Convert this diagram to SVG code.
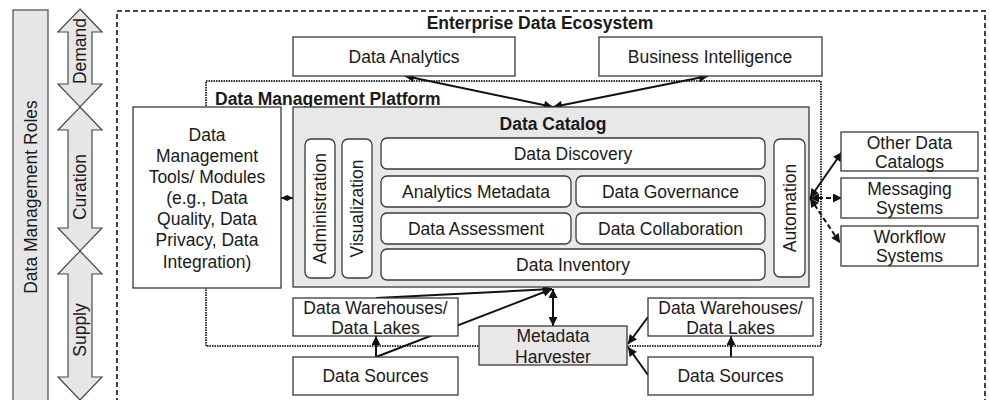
<svg xmlns="http://www.w3.org/2000/svg" width="989" height="400" viewBox="0 0 989 400">
  <style>
    text { font-family: "Liberation Sans", Arial, sans-serif; font-size: 17.5px; fill: #1a1a1a; text-anchor: middle; }
    .bold { font-weight: bold; }
    .box { fill: #ffffff; stroke: #3a3a3a; stroke-width: 1.3; }
    .gbox { fill: #e8e8e8; stroke: #3a3a3a; stroke-width: 1.3; }
    .rbox { fill: #ffffff; stroke: #3a3a3a; stroke-width: 1.3; }
    .role { fill: #e6e6e6; stroke: #4a4a4a; stroke-width: 1.2; }
    .eco { fill: none; stroke: #111; stroke-width: 1.6; stroke-dasharray: 5 3; }
    .dmp { fill: none; stroke: #333; stroke-width: 2; stroke-dasharray: 1.5 1; }
    .link { fill: none; stroke: #111; stroke-width: 2; }
    .dash { stroke-dasharray: 5 3; }
  </style>
  <defs>
    <marker id="ah" viewBox="0 0 10 10" refX="10" refY="5" markerWidth="10" markerHeight="9" markerUnits="userSpaceOnUse" orient="auto-start-reverse">
      <path d="M0,0 L10,5 L0,10 z" fill="#111"/>
    </marker>
    <marker id="ahs" viewBox="0 0 10 10" refX="10" refY="5" markerWidth="6" markerHeight="8" markerUnits="userSpaceOnUse" orient="auto-start-reverse">
      <path d="M0,0 L10,5 L0,10 z" fill="#111"/>
    </marker>
  </defs>

  <!-- roles column -->
  <g id="roles">
    <rect class="role" x="13" y="10" width="35" height="400"/>
    <text transform="translate(36.5,197) rotate(-90)">Data Management Roles</text>
  </g>
  <g id="demand">
    <path class="role" d="M80,9 L102,32 L92,32 L92,84 L102,84 L80,107 L58,84 L68,84 L68,32 L58,32 Z"/>
    <text transform="translate(86,51) rotate(-90)">Demand</text>
  </g>
  <g id="curation">
    <path class="role" d="M80,107 L102,130 L92,130 L92,228 L102,228 L80,251 L58,228 L68,228 L68,130 L58,130 Z"/>
    <text transform="translate(86,187) rotate(-90)">Curation</text>
  </g>
  <g id="supply">
    <path class="role" d="M80,251 L102,274 L92,274 L92,377 L102,377 L80,400 L58,377 L68,377 L68,274 L58,274 Z"/>
    <text transform="translate(86,330) rotate(-90)">Supply</text>
  </g>

  <!-- containers -->
  <g id="ecosystem">
    <rect class="eco" x="117" y="11" width="868" height="420"/>
    <text class="bold" x="540" y="29">Enterprise Data Ecosystem</text>
  </g>
  <g id="platform">
    <rect class="dmp" x="206" y="81" width="615" height="265"/>
    <text class="bold" x="215" y="105" style="text-anchor:start">Data Management Platform</text>
  </g>

  <!-- connectors -->
  <g id="connectors">
    <line class="link" x1="553" y1="107" x2="405" y2="76" marker-start="url(#ah)" marker-end="url(#ah)"/>
    <line class="link" x1="553" y1="107" x2="708" y2="76" marker-start="url(#ah)" marker-end="url(#ah)"/>
    <line class="link" x1="281" y1="198" x2="293" y2="198" marker-start="url(#ahs)" marker-end="url(#ahs)"/>
    <line class="link" x1="810" y1="198" x2="842" y2="152" marker-start="url(#ah)" marker-end="url(#ah)"/>
    <line class="link dash" x1="810" y1="198" x2="842" y2="198" marker-start="url(#ah)" marker-end="url(#ah)"/>
    <line class="link dash" x1="810" y1="198" x2="840" y2="243" marker-start="url(#ah)" marker-end="url(#ah)"/>
    <line class="link" x1="376" y1="357" x2="552" y2="289" marker-end="url(#ah)"/>
    <line class="link" x1="376" y1="298" x2="552" y2="289" marker-end="url(#ah)"/>
    <line class="link" x1="376" y1="357" x2="376" y2="336" marker-end="url(#ah)"/>
    <line class="link" x1="553" y1="289" x2="553" y2="326" marker-start="url(#ah)" marker-end="url(#ah)"/>
    <line class="link" x1="648" y1="317" x2="628" y2="344" marker-end="url(#ah)"/>
    <line class="link" x1="648" y1="375" x2="628" y2="347" marker-end="url(#ah)"/>
    <line class="link" x1="731" y1="357" x2="731" y2="336" marker-end="url(#ah)"/>
  </g>

  <!-- consumers -->
  <g id="data-analytics">
    <rect class="box" x="293" y="37" width="222" height="39"/>
    <text x="404" y="63">Data Analytics</text>
  </g>
  <g id="business-intelligence">
    <rect class="box" x="599" y="37" width="223" height="39"/>
    <text x="710" y="63">Business Intelligence</text>
  </g>

  <!-- tools -->
  <g id="dm-tools">
    <rect class="box" x="133" y="107" width="148" height="181"/>
    <text x="207" y="141">Data</text>
    <text x="207" y="162">Management</text>
    <text x="207" y="183">Tools/ Modules</text>
    <text x="207" y="204">(e.g., Data</text>
    <text x="207" y="225">Quality, Data</text>
    <text x="207" y="246">Privacy, Data</text>
    <text x="207" y="268">Integration)</text>
  </g>

  <!-- catalog -->
  <g id="data-catalog">
    <rect class="gbox" x="293" y="107" width="516" height="180"/>
    <text class="bold" x="553" y="130">Data Catalog</text>
  </g>
  <g id="administration">
    <rect class="rbox" x="305" y="139" width="30" height="139" rx="6"/>
    <text transform="translate(326,208.5) rotate(-90)">Administration</text>
  </g>
  <g id="visualization">
    <rect class="rbox" x="342" y="139" width="30" height="139" rx="6"/>
    <text transform="translate(363,208.5) rotate(-90)">Visualization</text>
  </g>
  <g id="data-discovery">
    <rect class="rbox" x="381" y="138" width="384" height="31" rx="6"/>
    <text x="573" y="160">Data Discovery</text>
  </g>
  <g id="analytics-metadata">
    <rect class="rbox" x="381" y="176" width="190" height="31" rx="6"/>
    <text x="476" y="198">Analytics Metadata</text>
  </g>
  <g id="data-governance">
    <rect class="rbox" x="576" y="176" width="189" height="31" rx="6"/>
    <text x="670.5" y="198">Data Governance</text>
  </g>
  <g id="data-assessment">
    <rect class="rbox" x="381" y="213" width="190" height="31" rx="6"/>
    <text x="476" y="235">Data Assessment</text>
  </g>
  <g id="data-collaboration">
    <rect class="rbox" x="576" y="213" width="189" height="31" rx="6"/>
    <text x="670.5" y="235">Data Collaboration</text>
  </g>
  <g id="data-inventory">
    <rect class="rbox" x="381" y="249" width="384" height="31" rx="6"/>
    <text x="573" y="271">Data Inventory</text>
  </g>
  <g id="automation">
    <rect class="rbox" x="774" y="139" width="31" height="138" rx="6"/>
    <text transform="translate(795.5,208) rotate(-90)">Automation</text>
  </g>

  <!-- external systems -->
  <g id="other-catalogs">
    <rect class="box" x="841" y="132" width="137" height="39"/>
    <text x="909.5" y="149">Other Data</text>
    <text x="909.5" y="168">Catalogs</text>
  </g>
  <g id="messaging">
    <rect class="box" x="841" y="178" width="137" height="40"/>
    <text x="909.5" y="195">Messaging</text>
    <text x="909.5" y="214">Systems</text>
  </g>
  <g id="workflow">
    <rect class="box" x="841" y="226" width="137" height="40"/>
    <text x="909.5" y="243">Workflow</text>
    <text x="909.5" y="262">Systems</text>
  </g>

  <!-- supply side -->
  <g id="dw-left">
    <rect class="box" x="293" y="298" width="165" height="38"/>
    <text x="375.5" y="314">Data Warehouses/</text>
    <text x="375.5" y="334">Data Lakes</text>
  </g>
  <g id="sources-left">
    <rect class="box" x="293" y="357" width="165" height="38"/>
    <text x="375.5" y="382">Data Sources</text>
  </g>
  <g id="harvester">
    <rect class="gbox" x="479" y="326" width="148" height="39"/>
    <text x="553" y="342">Metadata</text>
    <text x="553" y="363">Harvester</text>
  </g>
  <g id="dw-right">
    <rect class="box" x="648" y="298" width="165" height="38"/>
    <text x="730.5" y="314">Data Warehouses/</text>
    <text x="730.5" y="334">Data Lakes</text>
  </g>
  <g id="sources-right">
    <rect class="box" x="648" y="357" width="165" height="38"/>
    <text x="730.5" y="382">Data Sources</text>
  </g>
</svg>
